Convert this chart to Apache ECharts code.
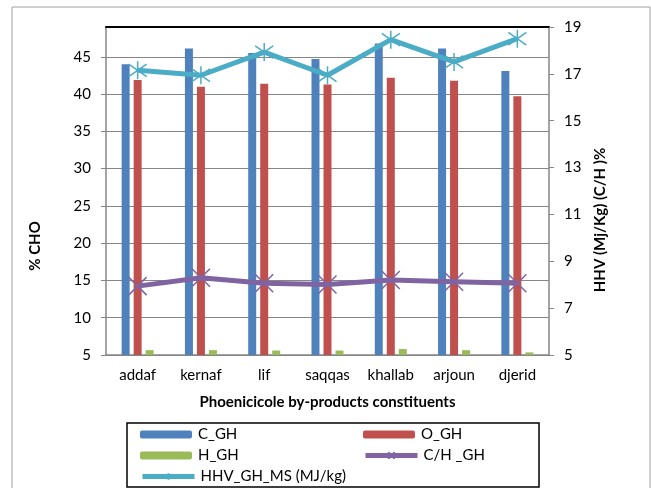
<!DOCTYPE html>
<html><head><meta charset="utf-8">
<script src="https://cdn.jsdelivr.net/npm/echarts@6/dist/echarts.min.js"></script>
<style>html,body{margin:0;padding:0;background:#fff}#c{width:651px;height:488px}</style>
</head><body><div id="c"></div>
<script>
const categories = ['addaf','kernaf','lif','saqqas','khallab','arjoun','djerid'];
const C_GH = [44.0, 46.1, 45.5, 44.7, 46.8, 46.1, 43.1];
const O_GH = [41.9, 41.0, 41.4, 41.3, 42.2, 41.8, 39.7];
const H_GH = [5.65, 5.65, 5.6, 5.6, 5.8, 5.65, 5.35];
const CH_GH = [7.94, 8.30, 8.06, 8.01, 8.20, 8.13, 8.06];
const HHV = [17.15, 16.94, 17.93, 16.94, 18.46, 17.51, 18.5];
const leftTicks = {min: 5, max: 49, interval: 5};
const rightTicks = {min: 5, max: 19, interval: 2};

const FONT = 'Lato, "Open Sans", sans-serif';
const GRAY = '#868686';
const star = 'path://M5,0L5,10M1.5,1.5L8.5,8.5M1.5,8.5L8.5,1.5';
const xmark = 'path://M1,1L9,9M1,9L9,1';

function leg(name, left, top) {
  return {left: left, top: top, itemWidth: 52, itemHeight: 8, itemGap: 0, padding: 0,
    data: [name], lineStyle: {width: 5},
    textStyle: {fontFamily: FONT, fontSize: 15, color: '#000', padding: [0, 0, 0, 1]}};
}

const chart = echarts.init(document.getElementById('c'));
chart.setOption({
  animation: false,
  textStyle: {fontFamily: FONT},
  grid: {left: 106, right: 102, top: 27, bottom: 133},
  legend: [
    leg('C_GH', 140, 427),
    leg('H_GH', 140, 448),
    leg('HHV_GH_MS (MJ/kg)', 140, 469),
    leg('O_GH', 363, 427),
    leg('C/H _GH', 363, 448)
  ],
  graphic: [
    {type: 'rect', shape: {x: 12, y: 7, width: 638, height: 490}, style: {fill: 'none', stroke: '#a0a0a0', lineWidth: 1}, silent: true, z: -10},
    {type: 'rect', shape: {x: 127, y: 423, width: 412, height: 64}, style: {fill: 'none', stroke: '#000', lineWidth: 1.5}, silent: true}
  ],
  xAxis: [
    {type: 'category', data: categories, position: 'bottom',
     axisLine: {lineStyle: {color: GRAY, width: 1.5}}, axisTick: {show: false},
     axisLabel: {color: '#000', fontSize: 15, margin: 13, fontFamily: FONT},
     name: 'Phoenicicole by-products constituents', nameLocation: 'middle', nameGap: 40,
     nameTextStyle: {fontWeight: 'bold', fontSize: 15, color: '#000', fontFamily: FONT}},
    {type: 'category', data: categories, position: 'top',
     axisLine: {lineStyle: {color: '#000', width: 2}}, axisTick: {show: false}, axisLabel: {show: false}}
  ],
  yAxis: [
    {type: 'value', position: 'left', min: leftTicks.min, max: leftTicks.max, interval: leftTicks.interval,
     axisLine: {show: true, lineStyle: {color: GRAY, width: 1.5}},
     axisTick: {show: true, length: 5, lineStyle: {color: GRAY}},
     axisLabel: {color: '#000', fontSize: 15, margin: 15, showMaxLabel: false, fontFamily: FONT},
     splitLine: {show: true, lineStyle: {color: GRAY, width: 1.2}},
     name: '% CHO', nameLocation: 'middle', nameGap: 63,
     nameTextStyle: {fontWeight: 'bold', fontSize: 15, color: '#000', padding: [0, 110, 0, 0], fontFamily: FONT}},
    {type: 'value', position: 'right', min: rightTicks.min, max: rightTicks.max, interval: rightTicks.interval,
     axisLine: {show: true, lineStyle: {color: GRAY, width: 1.5}},
     axisTick: {show: true, length: 5, lineStyle: {color: GRAY}},
     axisLabel: {color: '#000', fontSize: 15, margin: 15, fontFamily: FONT},
     splitLine: {show: false},
     name: 'HHV (Mj/Kg) (C/H )%', nameLocation: 'middle', nameGap: 43, nameRotate: 90,
     nameTextStyle: {fontWeight: 'bold', fontSize: 15, color: '#000', padding: [0, 58, 0, 0], fontFamily: FONT}}
  ],
  series: [
    {name: 'C_GH', type: 'bar', yAxisIndex: 0, data: C_GH, barWidth: 8, barGap: '50%', itemStyle: {color: '#4f81bd'}},
    {name: 'O_GH', type: 'bar', yAxisIndex: 0, data: O_GH, barWidth: 8, barGap: '50%', itemStyle: {color: '#c0504d'}},
    {name: 'H_GH', type: 'bar', yAxisIndex: 0, data: H_GH, barWidth: 8, barGap: '50%', itemStyle: {color: '#9bbb59'}},
    {name: 'C/H _GH', type: 'line', yAxisIndex: 1, data: CH_GH, z: 5,
     symbol: xmark, symbolSize: 18, showAllSymbol: true,
     lineStyle: {color: '#8064a2', width: 5},
     itemStyle: {color: '#8064a2', borderColor: '#8064a2', borderWidth: 1.5}},
    {name: 'HHV_GH_MS (MJ/kg)', type: 'line', yAxisIndex: 1, data: HHV, z: 6,
     symbol: star, symbolSize: 18, showAllSymbol: true,
     lineStyle: {color: '#4bacc6', width: 5},
     itemStyle: {color: '#4bacc6', borderColor: '#4bacc6', borderWidth: 1.5}}
  ]
});
</script></body></html>
